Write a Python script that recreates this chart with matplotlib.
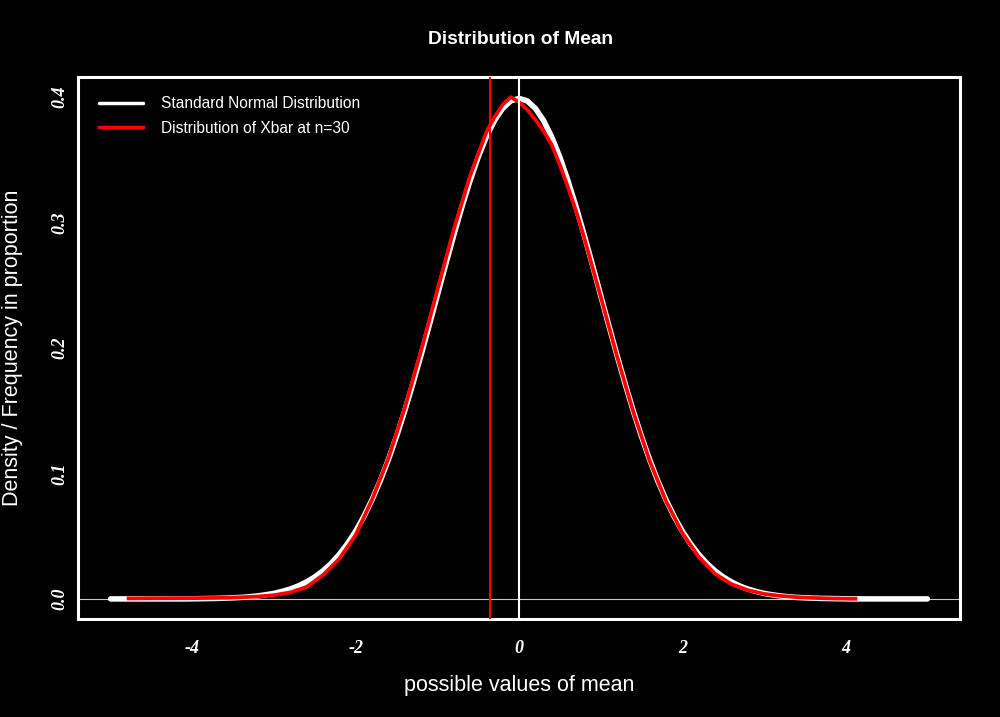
import numpy as np
import matplotlib
matplotlib.use("Agg")
import matplotlib.pyplot as plt
from matplotlib.font_manager import FontProperties

# standard normal density, read at steps of 0.1 from -5 to 5
norm_x = np.arange(-50, 51) * 0.1
norm_half = [0.3989, 0.3970, 0.3910, 0.3814, 0.3683, 0.3521, 0.3332, 0.3123,
             0.2897, 0.2661, 0.2420, 0.2179, 0.1942, 0.1714, 0.1497, 0.1295,
             0.1109, 0.0940, 0.0790, 0.0656, 0.0540, 0.0440, 0.0355, 0.0283,
             0.0224, 0.0175, 0.0136, 0.0104, 0.0079, 0.0060, 0.0044, 0.0033,
             0.0024, 0.0017, 0.0012, 0.0009, 0.0006, 0.0004, 0.0003, 0.0002,
             0.0001, 0.0000, 0.0000, 0.0000, 0.0000, 0.0000, 0.0000, 0.0000,
             0.0000, 0.0000, 0.0000]
norm_y = norm_half[:0:-1] + norm_half

# density of sample means (n=30)
xbar_x = [-4.78, -4.4, -4.0, -3.6, -3.4, -3.2, -3.0, -2.8, -2.6, -2.4, -2.2,
          -2.0, -1.8, -1.6, -1.4, -1.2, -1.0, -0.8, -0.6, -0.4, -0.3, -0.2,
          -0.1, 0.0, 0.1, 0.2, 0.3, 0.4, 0.5, 0.6, 0.7, 0.8, 1.0, 1.2, 1.4,
          1.6, 1.8, 2.0, 2.2, 2.4, 2.6, 2.8, 3.0, 3.2, 3.4, 3.6, 3.8, 4.0,
          4.12]
xbar_y = [0.0004, 0.0005, 0.0006, 0.0009, 0.0013, 0.0019, 0.0030, 0.0052,
          0.0095, 0.0190, 0.0320, 0.0510, 0.0790, 0.1120, 0.1520, 0.1975,
          0.2460, 0.2940, 0.3370, 0.3720, 0.3840, 0.3940, 0.4000, 0.3960,
          0.3900, 0.3820, 0.3730, 0.3620, 0.3460, 0.3280, 0.3090, 0.2875,
          0.2410, 0.1935, 0.1490, 0.1100, 0.0780, 0.0525, 0.0335, 0.0200,
          0.0118, 0.0070, 0.0040, 0.0024, 0.0014, 0.0008, 0.0004, 0.0002,
          0.0001]

xbar_mean = -0.36
pop_mean = 0.0

x_ticks = [-4, -2, 0, 2, 4]
y_ticks = [0.0, 0.1, 0.2, 0.3, 0.4]

fig = plt.figure(figsize=(10, 7.17), dpi=100)
fig.patch.set_facecolor("black")
ax = fig.add_axes([0.078, 0.1367, 0.882, 0.7559])
ax.set_facecolor("black")

ax.axhline(0, color="#c8c8c8", lw=0.8, zorder=1)
ax.plot(norm_x, norm_y, color="white", lw=4.0, solid_capstyle="round",
        label="Standard Normal Distribution", zorder=2)
ax.plot(xbar_x, xbar_y, color="red", lw=2.7,
        label="Distribution of Xbar at n=30", zorder=3)
ax.axvline(xbar_mean, color="red", lw=1.5, zorder=4)
ax.axvline(pop_mean, color="white", lw=1.5, zorder=4)

ax.set_xlim(-5.4, 5.4)
ax.set_ylim(-0.016, 0.416)
ax.set_xticks(x_ticks)
ax.set_yticks(y_ticks)
ax.set_xticklabels([str(v) for v in x_ticks])
ax.set_yticklabels([f"{v:.1f}" for v in y_ticks], rotation=90, va="center")

tick_font = FontProperties(family="Liberation Serif", style="italic",
                           weight="bold", size=13)
for lab in ax.get_xticklabels() + ax.get_yticklabels():
    lab.set_fontproperties(tick_font)
    lab.set_color("white")
ax.tick_params(axis="x", length=0, pad=15)
ax.tick_params(axis="y", length=0, pad=7)

for sp in ax.spines.values():
    sp.set_color("white")
    sp.set_linewidth(2.2)

ax.set_xlabel("possible values of mean", color="white", fontsize=15.5,
              family="Liberation Sans", va="center")
ax.set_ylabel("Density / Frequency in proportion", color="white", fontsize=15.5,
              family="Liberation Sans", va="center")
ax.xaxis.set_label_coords(0.5, -0.1236)
ax.yaxis.set_label_coords(-0.0748, 0.5)
fig.text(0.52, 1 - 40 / 717, "Distribution of Mean", color="white",
         fontsize=13.8, weight="bold", family="Liberation Sans",
         ha="center", va="center")

leg = ax.legend(loc="upper left", bbox_to_anchor=(0.008, 0.99), frameon=False,
                handlelength=2.8, handletextpad=1.2, labelspacing=0.6,
                prop=dict(family="Liberation Sans", size=11.2))
for t in leg.get_texts():
    t.set_color("white")
for h in leg.get_lines():
    h.set_linewidth(2.5)

fig.savefig("out.png", dpi=100, facecolor="black")
